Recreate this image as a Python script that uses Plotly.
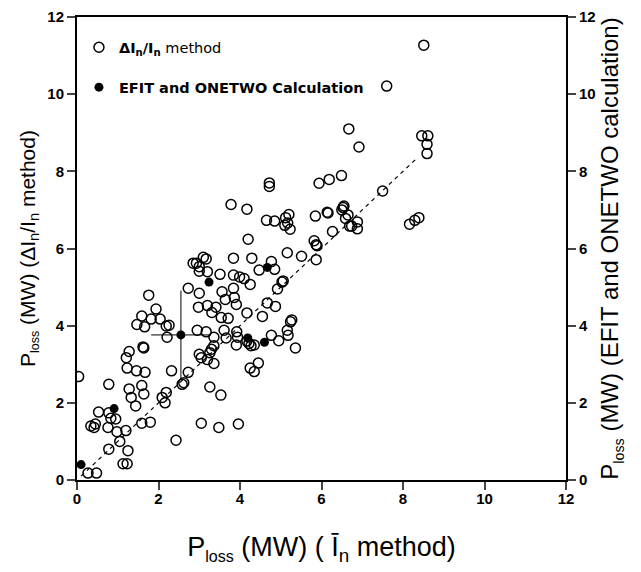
import plotly.graph_objects as go

# open circles: DeltaI_n/I_n method vs I_n method
open_x = [0.04, 0.78, 0.27, 0.48, 0.34, 0.45, 0.42, 0.53, 0.78, 0.83, 0.95, 0.76, 0.98, 1.2, 1.05,
          0.78, 1.25, 1.13, 1.23, 1.23, 1.21, 1.28, 1.46, 1.28, 1.33, 1.44, 1.59, 1.8, 1.59, 1.64,
          1.67, 1.62, 1.64, 1.47, 1.59, 1.66, 1.76, 1.82, 1.94, 2.04, 2.19, 2.26, 2.21, 2.09, 2.16,
          2.19, 2.32, 2.43, 2.58, 2.62, 2.73, 2.73, 2.85, 2.93, 3.0, 3.0, 3.1, 3.17, 3.2, 3.0,
          2.98, 3.2, 3.31, 3.41, 3.51, 3.56, 3.64, 3.71, 3.54, 2.95, 3.17, 3.36, 3.61, 3.66, 3.0,
          3.05, 3.26, 3.3, 3.36, 3.2, 3.36, 3.26, 3.53, 3.05, 3.48, 3.96, 3.78, 4.17, 3.84, 3.84,
          3.99, 4.1, 4.25, 4.29, 4.2, 3.84, 3.86, 3.91, 4.17, 3.92, 3.94, 3.91, 4.17, 4.22, 4.27,
          4.35, 4.25, 4.35, 4.45, 4.47, 4.55, 4.65, 4.72, 4.72, 4.67, 4.87, 4.77, 4.85, 4.77, 4.85,
          4.95, 4.92, 5.03, 5.06, 5.1, 5.12, 5.17, 5.2, 5.23, 5.16, 5.16, 5.18, 5.24, 5.27, 5.36,
          5.51, 5.82, 5.87, 5.89, 5.87, 5.85, 5.94, 6.19, 6.14, 6.16, 6.27, 6.49, 6.5, 6.53, 6.55,
          6.59, 6.65, 6.69, 6.74, 6.88, 6.88, 6.67, 6.92, 7.5, 7.6, 8.16, 8.29, 8.39, 8.51, 8.46,
          8.61, 8.59, 8.59]
open_y = [2.68, 2.48, 0.18, 0.18, 1.4, 1.45, 1.36, 1.76, 1.74, 1.6, 1.58, 1.36, 1.25, 1.28, 1.0,
          0.8, 0.76, 0.42, 0.42, 2.9, 3.17, 3.33, 2.83, 2.36, 2.14, 1.92, 1.47, 1.5, 2.45, 2.23,
          2.79, 3.45, 3.42, 4.03, 4.25, 3.97, 4.79, 4.17, 4.43, 4.17, 3.99, 4.01, 3.7, 2.14, 2.0,
          2.27, 2.83, 1.03, 2.48, 2.52, 2.79, 4.97, 5.62, 5.62, 5.53, 5.41, 5.77, 5.73, 5.4, 4.84,
          4.48, 4.52, 4.34, 4.48, 5.33, 4.88, 4.68, 4.19, 4.21, 3.88, 3.84, 3.7, 3.88, 3.68, 3.26,
          3.17, 3.3, 3.39, 3.48, 3.12, 3.02, 2.41, 2.2, 1.47, 1.36, 1.45, 7.14, 7.02, 5.75, 5.31,
          5.26, 5.22, 5.07, 5.75, 6.24, 4.97, 4.73, 4.55, 4.33, 3.84, 3.7, 3.5, 3.6, 3.54, 3.48,
          3.5, 2.9, 2.81, 3.03, 5.44, 4.24, 6.73, 7.7, 7.61, 4.59, 4.5, 5.66, 5.46, 3.75, 6.71,
          3.61, 4.95, 5.13, 5.16, 6.6, 6.8, 6.66, 6.88, 6.5, 5.89, 3.88, 3.75, 4.1, 4.15, 3.42,
          5.8, 6.2, 6.1, 6.07, 5.71, 6.84, 7.69, 7.79, 6.94, 6.92, 6.44, 7.89, 7.0, 7.06, 7.1,
          6.78, 6.87, 6.58, 6.58, 6.69, 6.51, 9.1, 8.63, 7.49, 10.21, 6.63, 6.73, 6.8, 11.27, 8.92,
          8.92, 8.7, 8.46]

# filled circles: EFIT and ONETWO calculation
calc_x = [0.1, 0.91, 2.55, 3.24, 4.19, 4.6, 4.67]
calc_y = [0.4, 1.85, 3.76, 5.13, 3.68, 3.57, 5.51]
calc_ex = [0, 0, 0.73, 0, 0, 0, 0]
calc_ey = [0, 0, 1.15, 0, 0, 0, 0]

# dashed equality line
line_x = [0.1, 8.3]
line_y = [0.1, 8.3]

ticks = [0, 2, 4, 6, 8, 10, 12]

FONT = "Liberation Sans, Arial, sans-serif"
LEG_FONT = "DejaVu Sans, Liberation Sans, sans-serif"
SUB = "<sub><span style='font-size:85%'>{}</span></sub>"

fig = go.Figure()

fig.add_trace(go.Scatter(
    x=line_x, y=line_y, mode="lines", showlegend=False,
    line=dict(color="black", width=1.3, dash="4px,4px"),
))

fig.add_trace(go.Scatter(
    x=open_x, y=open_y, mode="markers",
    name="<b>\u0394I<sub>n</sub>/I<sub>n</sub></b> method",
    legendgroup="a",
    marker=dict(symbol="circle-open", size=10, color="black", line=dict(width=1.5)),
))

fig.add_trace(go.Scatter(
    x=calc_x, y=calc_y, mode="markers", yaxis="y2",
    name="<b>EFIT and ONETWO Calculation</b>",
    legendgroup="b",
    marker=dict(symbol="circle", size=9, color="black"),
    error_x=dict(type="data", array=calc_ex, color="black", thickness=1, width=0),
    error_y=dict(type="data", array=calc_ey, color="black", thickness=1, width=0),
))

axis_common = dict(
    range=[0, 12], tickvals=ticks, ticks="outside", ticklen=8, tickwidth=1.5,
    showline=True, linecolor="black", linewidth=2, showgrid=False, zeroline=False,
    automargin=False,
    tickfont=dict(family=FONT, size=15, color="black", weight="bold"),
)

fig.update_layout(
    width=641, height=572,
    margin=dict(l=69, r=83, t=9, b=100),
    plot_bgcolor="white", paper_bgcolor="white",
    font=dict(family=FONT, color="black"),
    xaxis=dict(axis_common, mirror=True, ticklabelstandoff=-4,
               title=dict(text="P" + SUB.format("loss") + " (MW) ( \u012a<sub>n</sub> method)",
                          font=dict(size=27), standoff=31)),
    yaxis=dict(axis_common,
               title=dict(text="P" + SUB.format("loss") + " (MW) (\u0394I<sub>n</sub>/I<sub>n</sub> method)",
                          font=dict(size=21), standoff=6)),
    yaxis2=dict(axis_common, overlaying="y", side="right",
                title=dict(text="P" + SUB.format("loss") + " (MW) (EFIT and ONETWO calculation)",
                           font=dict(size=24), standoff=7)),
    legend=dict(x=0.004, y=0.969, xanchor="left", yanchor="top",
                bgcolor="rgba(0,0,0,0)", tracegroupgap=18,
                font=dict(family=LEG_FONT, size=14.5, color="black")),
)

fig.write_html("out.html")
